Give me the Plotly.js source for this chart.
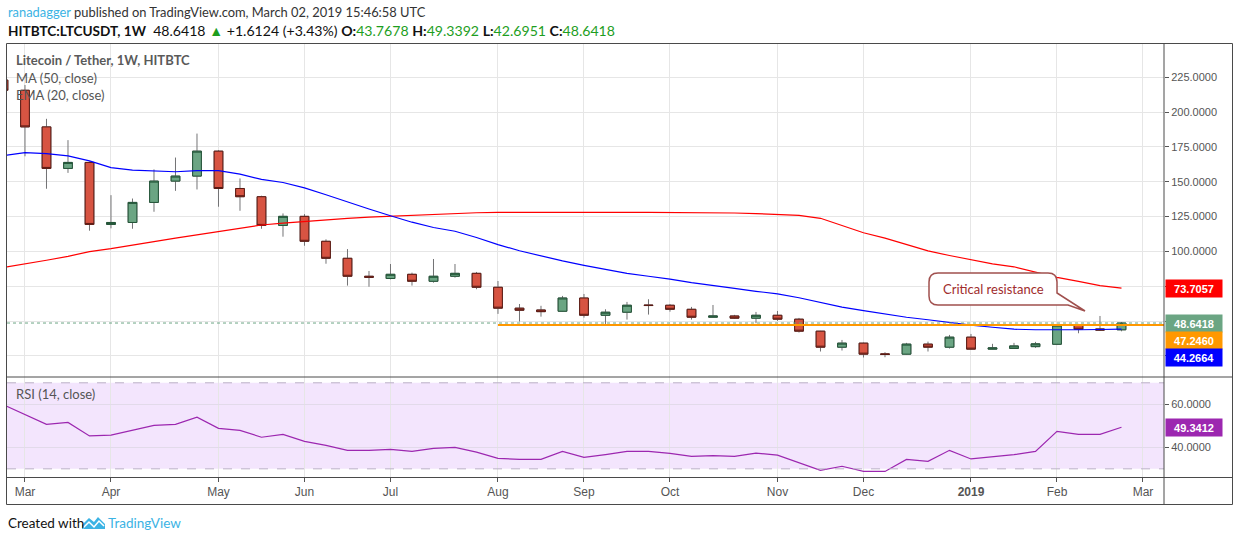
<!DOCTYPE html>
<html>
<head>
<meta charset="utf-8">
<script src="https://cdn.plot.ly/plotly-3.0.1.min.js"></script>
<style>
  html, body { margin: 0; padding: 0; background: #ffffff; }
  #chart { width: 1234px; height: 541px; }
</style>
</head>
<body>
<div id="chart"></div>
<script>
// ---------- DATA ----------
const weeks = ['2018-02-26','2018-03-05','2018-03-12','2018-03-19','2018-03-26','2018-04-02','2018-04-09','2018-04-16','2018-04-23','2018-04-30',
  '2018-05-07','2018-05-14','2018-05-21','2018-05-28','2018-06-04','2018-06-11','2018-06-18','2018-06-25','2018-07-02','2018-07-09',
  '2018-07-16','2018-07-23','2018-07-30','2018-08-06','2018-08-13','2018-08-20','2018-08-27','2018-09-03','2018-09-10','2018-09-17',
  '2018-09-24','2018-10-01','2018-10-08','2018-10-15','2018-10-22','2018-10-29','2018-11-05','2018-11-12','2018-11-19','2018-11-26',
  '2018-12-03','2018-12-10','2018-12-17','2018-12-24','2018-12-31','2019-01-07','2019-01-14','2019-01-21','2019-01-28','2019-02-04',
  '2019-02-11','2019-02-18','2019-02-25'];

const openP  = [223.0,215.7,189.4,159.6,163.9,119.4,120.8,135.2,150.5,154.1,
  172.0,145.2,139.3,118.7,125.2,107.3,95.1,82.2,80.6,83.6,
  78.6,82.2,84.3,74.3,59.3,58.0,57.1,66.6,54.2,56.4,
  61.6,61.4,58.5,52.8,53.7,52.1,54.2,51.4,42.8,31.3,
  34.2,26.5,26.3,33.5,31.3,38.5,29.9,30.4,31.7,33.4,
  47.1,44.4,43.7678];
const highP  = [226.0,219.5,195.2,179.9,164.6,140.4,138.0,158.9,167.4,184.6,
  172.7,152.4,140.0,127.3,126.8,108.7,101.7,86.0,91.0,84.8,
  94.6,91.0,85.3,78.8,62.3,61.0,68.1,69.5,58.5,63.8,
  65.7,62.3,60.2,61.6,54.5,56.6,57.3,52.3,43.0,36.5,
  34.6,27.7,34.4,35.3,40.1,40.8,33.7,34.4,35.1,47.6,
  48.0,53.7,49.3392];
const lowP   = [210.0,168.3,145.0,156.4,114.9,116.6,116.3,128.5,143.5,144.5,
  132.1,129.2,116.3,110.6,104.1,91.2,75.5,74.7,80.0,75.5,
  77.6,81.2,72.9,55.2,49.7,53.2,56.8,52.5,47.3,51.1,
  54.7,56.8,51.1,52.6,51.6,48.5,50.2,41.8,28.2,28.9,
  23.9,24.1,26.0,28.2,30.3,29.6,29.7,30.2,30.8,32.8,
  41.3,43.0,42.6951];
const closeP = [215.7,189.4,159.6,163.9,119.4,120.8,135.2,150.5,154.1,172.0,
  145.2,139.3,118.7,125.2,107.3,95.1,82.2,81.5,83.6,78.6,
  82.2,84.3,74.3,59.3,57.8,56.8,66.6,54.2,56.4,61.4,
  61.2,58.5,52.8,53.7,52.1,54.2,51.4,42.8,31.3,34.2,
  26.3,26.1,33.5,31.3,38.5,29.9,30.8,32.2,33.7,47.1,
  44.2,43.6,48.6418];

const ma50 = [88.6,90.9,93.7,96.5,99.9,102.0,104.3,107.0,109.6,112.0,
  114.3,116.8,119.0,120.3,121.6,122.7,123.7,124.6,125.3,125.9,
  126.7,127.4,127.8,128.0,128.1,128.0,127.8,128.0,128.1,128.1,
  128.1,128.1,128.0,127.9,127.6,127.2,126.6,125.9,123.8,118.6,
  113.4,109.6,105.2,100.4,97.1,94.1,91.1,89.0,85.2,81.4,
  78.5,75.5,73.7057];
const ema20 = [168.8,171.0,170.2,168.6,165.0,160.2,158.4,157.6,157.2,158.0,
  158.0,155.5,151.7,149.5,145.6,140.7,135.4,130.5,125.6,121.0,
  117.2,114.5,110.0,104.9,100.5,96.6,93.2,90.0,87.0,84.3,
  82.2,80.2,77.6,75.3,73.5,71.4,69.6,66.8,63.6,60.0,
  57.6,55.2,52.8,51.0,49.0,47.1,45.6,44.2,43.8,43.6,
  43.8,44.0,44.2664];
const rsi14 = [59.8,55.3,50.7,51.6,45.3,45.7,47.9,50.2,50.7,54.0,
  48.8,47.9,44.7,46.0,42.8,40.9,38.6,38.6,39.0,38.1,
  39.5,40.0,37.8,34.9,34.4,34.4,38.1,35.3,36.6,38.1,
  38.1,37.2,35.8,36.1,35.8,37.3,36.4,32.9,29.3,31.2,
  28.8,28.8,34.4,33.5,38.6,34.6,35.5,36.6,38.1,47.4,
  46.0,46.0,49.3412];

const resistanceLevel = 47.2460;
const resistanceStart = '2018-08-06';
const lastClose = 48.6418;

const monthTickDates = ['2018-03-05','2018-04-02','2018-05-07','2018-06-04','2018-07-02','2018-08-06','2018-09-03',
  '2018-10-01','2018-11-05','2018-12-03','2019-01-07','2019-02-04','2019-03-04'];
const monthTickText = ['Mar','Apr','May','Jun','Jul','Aug','Sep','Oct','Nov','Dec','<b>2019</b>','Feb','Mar'];
const priceTicks = [25,50,75,100,125,150,175,200,225];
const priceTickText = ['','','','100.0000','125.0000','150.0000','175.0000','200.0000','225.0000'];
const rsiTicks = [40,60];
const rsiTickText = ['40.0000','60.0000'];

// ---------- LAYOUT HELPERS (pixel -> paper) ----------
const PL = 7, PR = 1164, PT = 44, PB = 477, SPLIT = 377;
const X = px => (px - PL) / (PR - PL);
const Y = py => (PB - py) / (PB - PT);
const pathOf = (cmds) => cmds.map(c => {
  if (c === 'Z') return 'Z';
  const [op, ...pts] = c;
  const out = [];
  for (let i = 0; i < pts.length; i += 2) out.push(X(pts[i]).toFixed(5) + ',' + Y(pts[i+1]).toFixed(5));
  return op + out.join(' ');
}).join(' ');

const bodyHigh = openP.map((o, i) => Math.max(o, closeP[i]));
const bodyLow  = openP.map((o, i) => Math.min(o, closeP[i]));

const traces = [
  { type: 'candlestick', x: weeks, open: openP, high: highP, low: lowP, close: closeP,
    increasing: { line: { color: '#737375', width: 1 }, fillcolor: '#737375' },
    decreasing: { line: { color: '#737375', width: 1 }, fillcolor: '#737375' },
    whiskerwidth: 0, hoverinfo: 'skip', showlegend: false, xaxis: 'x', yaxis: 'y' },
  { type: 'candlestick', x: weeks, open: openP, high: bodyHigh, low: bodyLow, close: closeP,
    increasing: { line: { color: '#225437', width: 1 }, fillcolor: '#6BA583' },
    decreasing: { line: { color: '#5B1A13', width: 1 }, fillcolor: '#D75442' },
    whiskerwidth: 0, hoverinfo: 'skip', showlegend: false, xaxis: 'x', yaxis: 'y' },
  { type: 'scatter', mode: 'lines', x: weeks, y: ma50, line: { color: '#FF0000', width: 1.2 },
    hoverinfo: 'skip', showlegend: false, xaxis: 'x', yaxis: 'y' },
  { type: 'scatter', mode: 'lines', x: weeks, y: ema20, line: { color: '#0000FF', width: 1.2 },
    hoverinfo: 'skip', showlegend: false, xaxis: 'x', yaxis: 'y' },
  { type: 'scatter', mode: 'lines', x: weeks, y: rsi14, line: { color: '#9C27B0', width: 1.2 },
    hoverinfo: 'skip', showlegend: false, xaxis: 'x', yaxis: 'y2' }
];

const axisFont = { family: 'Liberation Sans, Arial, sans-serif', size: 11, color: '#555555' };
const txtFont = { family: 'Lato, "Open Sans", sans-serif', size: 13, color: '#555555' };
const border = '#4a4a4a';

const shapes = [
  { type: 'rect', xref: 'paper', yref: 'y2', x0: 0, x1: 1, y0: 30, y1: 70, fillcolor: '#F3E5FD', line: { width: 0 }, layer: 'below' },
  { type: 'line', xref: 'paper', yref: 'y2', x0: 0, x1: 1, y0: 70, y1: 70, line: { color: '#BBB0C6', width: 1, dash: 'dash' } },
  { type: 'line', xref: 'paper', yref: 'y2', x0: 0, x1: 1, y0: 30, y1: 30, line: { color: '#BBB0C6', width: 1, dash: 'dash' } },
  { type: 'line', xref: 'paper', yref: 'y', x0: 0, x1: 1, y0: lastClose, y1: lastClose, line: { color: '#6BA583', width: 1, dash: 'dot' } },
  { type: 'line', xref: 'x', yref: 'y', x0: resistanceStart, x1: '2019-04-30', y0: resistanceLevel, y1: resistanceLevel, line: { color: '#FF9800', width: 2 } },
  { type: 'rect', xref: 'paper', yref: 'paper', x0: X(6.5), x1: X(1232.5), y0: Y(504.5), y1: Y(43.5), line: { color: border, width: 1 } },
  { type: 'line', xref: 'paper', yref: 'paper', x0: X(1164), x1: X(1164), y0: Y(504.5), y1: Y(43.5), line: { color: border, width: 1 } },
  { type: 'line', xref: 'paper', yref: 'paper', x0: X(6.5), x1: X(1232.5), y0: Y(SPLIT), y1: Y(SPLIT), line: { color: border, width: 1 } },
  { type: 'line', xref: 'paper', yref: 'paper', x0: X(6.5), x1: X(1232.5), y0: Y(477.5), y1: Y(477.5), line: { color: border, width: 1 } },
  { type: 'path', xref: 'paper', yref: 'paper',
    path: pathOf([['M',938,273],['L',1048,273],['Q',1057,273,1057,282],['L',1057,293],['L',1085,311],['L',1068,305],['L',938,305],['Q',929,305,929,296],['L',929,282],['Q',929,273,938,273],'Z']),
    fillcolor: '#ffffff', line: { color: '#A0504E', width: 1.5 } },
  { type: 'path', xref: 'paper', yref: 'paper',
    path: pathOf([['M',82,529],['L',82,525],['L',89,518],['L',94,522],['L',98,517],['L',105,524],['L',105,529],'Z']),
    fillcolor: '#3BB3E4', line: { width: 0 } },
  { type: 'path', xref: 'paper', yref: 'paper',
    path: pathOf([['M',83,528],['L',89,522],['L',94,527],['L',99,521],['L',104,526]]),
    line: { color: '#ffffff', width: 1.5 } }
];

function label(text, pyc, bg) {
  return { xref: 'paper', yref: 'paper', x: X(1165), y: Y(pyc), xanchor: 'left', yanchor: 'middle',
    text: '<b>' + text + '</b>', showarrow: false, bgcolor: bg, width: 52, height: 13, borderpad: 2,
    align: 'center', font: { family: 'Liberation Sans, Arial, sans-serif', size: 11, color: '#ffffff' } };
}
function txt(text, px, py, font, anchor) {
  return { xref: 'paper', yref: 'paper', x: X(px), y: Y(py), xanchor: anchor || 'left', yanchor: 'middle',
    text: text, showarrow: false, font: font };
}
const green = '#1E9E1E';
const g = v => '<span style="color:' + green + '">' + v + '</span>';
const annotations = [
  txt('<span style="color:#3BB3E4">ranadagger</span> published on TradingView.com, March 02, 2019 15:46:58 UTC', 6, 12,
      { family: 'Lato, sans-serif', size: 12.9, color: '#333333' }),
  txt('<b>HITBTC:LTCUSDT, 1W</b><span style="font-size:14.1px">  48.6418 ' + g('▲') + ' +1.6124 (+3.43%) <b>O:</b>' + g('43.7678') + ' <b>H:</b>' + g('49.3392') + ' <b>L:</b>' + g('42.6951') + ' <b>C:</b>' + g('48.6418') + '</span>', 6, 30,
      { family: 'Lato, sans-serif', size: 13.6, color: '#111111' }),
  txt('<b>Litecoin / Tether, 1W, HITBTC</b>', 14, 60, { family: 'Lato, sans-serif', size: 13, color: '#5a5a5a' }),
  txt('MA (50, close)', 14, 78, txtFont),
  txt('EMA (20, close)', 14, 95, txtFont),
  txt('RSI (14, close)', 14, 394, txtFont),
  txt('Critical resistance', 993, 289, { family: 'Lato, sans-serif', size: 13, color: '#A02C2C' }, 'center'),
  label('73.7057', 288, '#FF0000'),
  label('48.6418', 323, '#6BA583'),
  label('47.2460', 340, '#FF9800'),
  label('44.2664', 357, '#0000FF'),
  label('49.3412', 427, '#9C27B0'),
  txt('Created with', 6, 523, { family: 'Lato, sans-serif', size: 13.5, color: '#111111' }),
  txt('TradingView', 106, 523, { family: 'Lato, sans-serif', size: 13.5, color: '#3BB3E4' })
];

const layout = {
  width: 1234, height: 541,
  margin: { l: PL, r: 1234 - PR, t: PT, b: 541 - PB, pad: 0 },
  paper_bgcolor: '#ffffff', plot_bgcolor: '#ffffff',
  showlegend: false, boxgap: 0.42, boxmode: 'overlay',
  xaxis: {
    type: 'date', range: ['2018-02-27 03:25', '2019-03-10 20:10'], anchor: 'y2',
    tickmode: 'array', tickvals: monthTickDates, ticktext: monthTickText,
    showgrid: true, gridcolor: '#E6E6E6', gridwidth: 1,
    ticks: 'outside', ticklen: 4, tickcolor: '#555555', tickfont: { family: 'Liberation Sans, Arial, sans-serif', size: 12, color: '#555555' },
    showline: false, zeroline: false, rangeslider: { visible: false }, fixedrange: true
  },
  yaxis: {
    domain: [Y(SPLIT), 1], range: [9.9, 248.9], side: 'right', anchor: 'x',
    tickmode: 'array', tickvals: priceTicks, ticktext: priceTickText,
    showgrid: true, gridcolor: '#E6E6E6', gridwidth: 1, zeroline: false, showline: false,
    ticks: 'outside', ticklen: 4, tickcolor: '#555555', tickfont: axisFont, fixedrange: true
  },
  yaxis2: {
    domain: [0, Y(SPLIT)], range: [26.2, 72.7], side: 'right', anchor: 'x',
    tickmode: 'array', tickvals: rsiTicks, ticktext: rsiTickText,
    showgrid: true, gridcolor: '#E2DAEA', gridwidth: 1, zeroline: false, showline: false,
    ticks: 'outside', ticklen: 4, tickcolor: '#555555', tickfont: axisFont, fixedrange: true
  },
  shapes: shapes,
  annotations: annotations
};

Plotly.newPlot('chart', traces, layout, { staticPlot: true, displayModeBar: false });
</script>
</body>
</html>
